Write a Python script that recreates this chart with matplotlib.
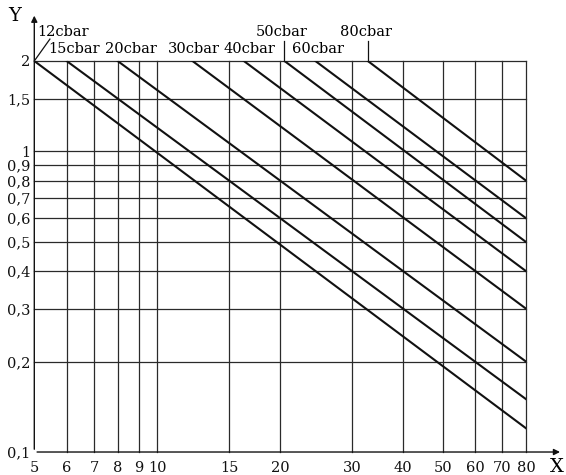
import matplotlib
matplotlib.use('Agg')
import matplotlib.pyplot as plt
from matplotlib.ticker import FixedLocator, NullLocator
import matplotlib.transforms as mtransforms

# Linien: Startpunkt oben (y = 2) und Endpunkt rechts (x = 80)
namen = ['12cbar', '15cbar', '20cbar', '30cbar', '40cbar', '50cbar', '60cbar', '80cbar']
x_start = [5, 6, 8, 12.2, 16.3, 20.5, 24.4, 32.8]
y_start = [2, 2, 2, 2, 2, 2, 2, 2]
x_ende = [80, 80, 80, 80, 80, 80, 80, 80]
y_ende = [0.12, 0.15, 0.2, 0.3, 0.4, 0.5, 0.6, 0.8]

x_ticks = [5, 6, 7, 8, 9, 10, 15, 20, 30, 40, 50, 60, 70, 80]
x_labels = ['5', '6', '7', '8', '9', '10', '15', '20', '30', '40', '50', '60', '70', '80']
y_ticks = [0.1, 0.2, 0.3, 0.4, 0.5, 0.6, 0.7, 0.8, 0.9, 1, 1.5, 2]
y_labels = ['0,1', '0,2', '0,3', '0,4', '0,5', '0,6', '0,7', '0,8', '0,9', '1', '1,5', '2']

# Beschriftungen oben: linke Kante (x in Daten) und Zeile (y in Achsenanteil)
label_x = [5.08, 5.40, 7.45, 10.6, 14.5, 17.45, 21.4, 28.0]
label_y = [1.074, 1.031, 1.031, 1.031, 1.031, 1.074, 1.031, 1.074]

plt.rcParams['font.family'] = ['DejaVu Serif']

fig = plt.figure(figsize=(5.66, 4.75), dpi=100)
ax = fig.add_axes([0.0606, 0.0484, 0.8686, 0.8232])
ax.set_xscale('log')
ax.set_yscale('log')
ax.set_xlim(5, 80)
ax.set_ylim(0.1, 2)

for s in ax.spines.values():
    s.set_visible(False)

# Gitter
for xv in x_ticks[1:]:
    ax.axvline(xv, color='#2a2a2a', lw=0.9, zorder=1, clip_on=False)
for yv in y_ticks[1:]:
    ax.axhline(yv, color='#2a2a2a', lw=0.9, zorder=1, clip_on=False)

# Diagonalen
for xs, ys, xe, ye in zip(x_start, y_start, x_ende, y_ende):
    ax.plot([xs, xe], [ys, ye], color='#111111', lw=1.5, zorder=3)

ax.xaxis.set_major_locator(FixedLocator(x_ticks))
ax.xaxis.set_minor_locator(NullLocator())
ax.set_xticklabels(x_labels)
ax.yaxis.set_major_locator(FixedLocator(y_ticks))
ax.yaxis.set_minor_locator(NullLocator())
ax.set_yticklabels(y_labels)
ax.tick_params(length=0, labelsize=10.5, colors='#111111')
ax.tick_params(axis='x', pad=6.5)
ax.tick_params(axis='y', pad=3)

# Achsen mit Pfeilen
pfeil = dict(arrowstyle='-|>', color='#111111', lw=1.0, mutation_scale=9)
ax.annotate('', xy=(0, 1.123), xytext=(0, 0), xycoords='axes fraction',
            arrowprops=pfeil, annotation_clip=False)
ax.annotate('', xy=(1.075, 0), xytext=(0, 0), xycoords='axes fraction',
            arrowprops=pfeil, annotation_clip=False)
fig.text(15 / 566, 1 - 16 / 475, 'Y', fontsize=14, ha='center', va='center')
fig.text(557 / 566, 1 - 467 / 475, 'X', fontsize=14, ha='center', va='center')

trans = mtransforms.blended_transform_factory(ax.transData, ax.transAxes)
for name, lx, ly in zip(namen, label_x, label_y):
    ax.text(lx, ly, name, transform=trans, fontsize=10.5, ha='left', va='center',
            clip_on=False)

# Hinweislinien
ax.plot([5, 5.46], [1.0, 1.056], transform=trans, color='#111111', lw=0.9, clip_on=False)
ax.plot([20.5, 20.5], [1.0, 1.051], transform=trans, color='#111111', lw=0.9, clip_on=False)
ax.plot([32.8, 32.8], [1.0, 1.051], transform=trans, color='#111111', lw=0.9, clip_on=False)

fig.savefig('out.png', dpi=100)
